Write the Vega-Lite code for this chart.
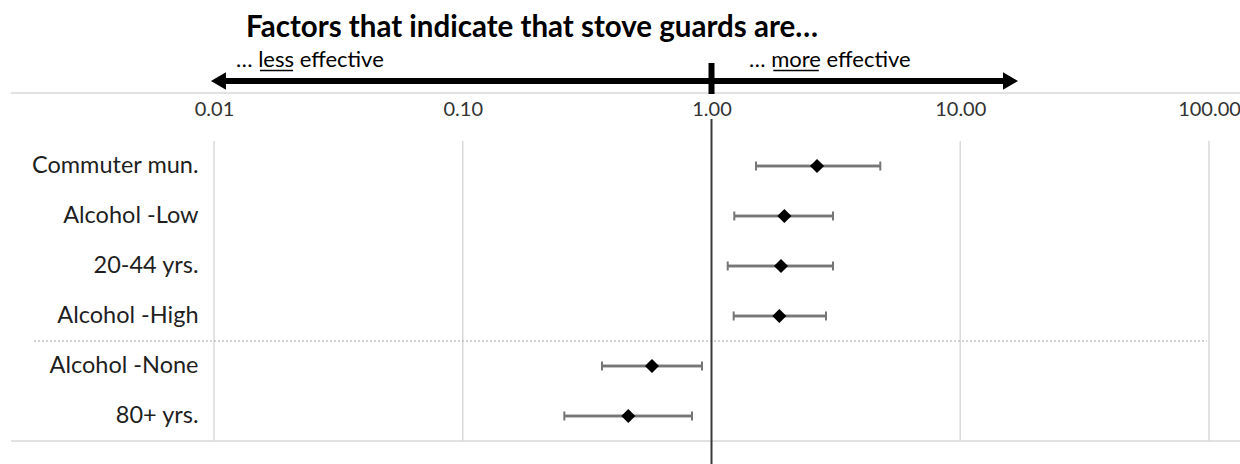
{
  "$schema": "https://vega.github.io/schema/vega-lite/v6.json",
  "background": "white",
  "padding": {"left": 10, "top": 12, "right": 0, "bottom": 0},
  "config": {"view": {"stroke": null}, "font": "Lato"},
  "spacing": 26,
  "bounds": "flush",
  "datasets": {
    "factors": [
      {"factor": "Commuter mun.", "or": 2.656, "lo": 1.51, "hi": 4.77},
      {"factor": "Alcohol -Low", "or": 1.963, "lo": 1.235, "hi": 3.08},
      {"factor": "20-44 yrs.", "or": 1.903, "lo": 1.162, "hi": 3.08},
      {"factor": "Alcohol -High", "or": 1.874, "lo": 1.228, "hi": 2.886},
      {"factor": "Alcohol -None", "or": 0.5764, "lo": 0.3628, "hi": 0.9158},
      {"factor": "80+ yrs.", "or": 0.4629, "lo": 0.256, "hi": 0.8349}
    ],
    "grid": [
      {"x": 0.01, "from": "Commuter mun.", "to": "80+ yrs."},
      {"x": 0.1, "from": "Commuter mun.", "to": "80+ yrs."},
      {"x": 10, "from": "Commuter mun.", "to": "80+ yrs."},
      {"x": 100, "from": "Commuter mun.", "to": "80+ yrs."}
    ],
    "separator": [{"factor": "Alcohol -None", "x": 0.00189, "x2": 98}],
    "bottomBorder": [{"factor": "80+ yrs.", "x": 0.001527, "x2": 134.5}],
    "refLine": [{"x": 1}],
    "topBorder": [{"lane": "border", "x": 0.001527, "x2": 134.5}],
    "shaft": [{"lane": "arrow", "x": 0.01042, "x2": 15.92}],
    "heads": [
      {"lane": "arrow", "x": 0.01042, "dir": "left"},
      {"lane": "arrow", "x": 15.92, "dir": "right"}
    ],
    "centreTick": [{"lane": "arrow", "x": 1}],
    "captions": [
      {"lane": "caption", "x": 0.01226, "label": "… less effective"},
      {"lane": "caption", "x": 1.415, "label": "… more effective"}
    ],
    "underlines": [
      {"lane": "caption", "x": 0.0153, "x2": 0.0208},
      {"lane": "caption", "x": 1.772, "x2": 2.70}
    ]
  },
  "vconcat": [
    {
      "width": 995,
      "height": 24,
      "title": {
        "text": "Factors that indicate that stove guards are…",
        "anchor": "start",
        "frame": "group",
        "dx": 32,
        "font": "Lato",
        "fontSize": 29.5,
        "fontWeight": "bold",
        "color": "#000000",
        "offset": 6
      },
      "layer": [
        {
          "data": {"name": "topBorder"},
          "mark": {"type": "rule", "color": "#d9d9d9", "strokeWidth": 1.5},
          "encoding": {
            "x": {"field": "x", "type": "quantitative", "scale": {"type": "log", "domain": [0.01, 100], "nice": false}, "axis": null},
            "x2": {"field": "x2"},
            "y": {"field": "lane", "type": "nominal", "scale": {"type": "point", "domain": ["caption", "arrow", "border"], "padding": 0}, "axis": null}
          }
        },
        {
          "data": {"name": "shaft"},
          "mark": {"type": "rule", "color": "#000000", "strokeWidth": 6},
          "encoding": {
            "x": {"field": "x", "type": "quantitative"},
            "x2": {"field": "x2"},
            "y": {"field": "lane", "type": "nominal"}
          }
        },
        {
          "data": {"name": "heads"},
          "mark": {"type": "point", "filled": true, "size": 300, "opacity": 1, "color": "#000000"},
          "encoding": {
            "x": {"field": "x", "type": "quantitative"},
            "y": {"field": "lane", "type": "nominal"},
            "shape": {"field": "dir", "type": "nominal", "scale": {"domain": ["left", "right"], "range": ["triangle-left", "triangle-right"]}, "legend": null}
          }
        },
        {
          "data": {"name": "centreTick"},
          "mark": {"type": "tick", "orient": "vertical", "color": "#000000", "size": 31, "thickness": 6, "opacity": 1, "yOffset": -2.5},
          "encoding": {
            "x": {"field": "x", "type": "quantitative"},
            "y": {"field": "lane", "type": "nominal"}
          }
        },
        {
          "data": {"name": "captions"},
          "mark": {"type": "text", "align": "left", "baseline": "alphabetic", "dy": -2, "font": "Lato", "fontSize": 22, "color": "#000000"},
          "encoding": {
            "x": {"field": "x", "type": "quantitative"},
            "y": {"field": "lane", "type": "nominal"},
            "text": {"field": "label"}
          }
        },
        {
          "data": {"name": "underlines"},
          "mark": {"type": "rule", "color": "#000000", "strokeWidth": 1.4, "yOffset": 1.5},
          "encoding": {
            "x": {"field": "x", "type": "quantitative"},
            "x2": {"field": "x2"},
            "y": {"field": "lane", "type": "nominal"}
          }
        }
      ]
    },
    {
      "width": 995,
      "height": 346,
      "layer": [
        {
          "data": {"name": "factors"},
          "mark": {"type": "rule", "color": "#767676", "strokeWidth": 2.5},
          "encoding": {
            "x": {
              "field": "lo", "type": "quantitative",
              "scale": {"type": "log", "domain": [0.01, 100], "nice": false},
              "axis": {
                "orient": "top", "values": [0.01, 0.1, 1, 10, 100], "format": ".2f",
                "grid": false, "ticks": false, "tickSize": 0, "domain": false,
                "labelFlush": false, "labelOverlap": false, "labelBound": false,
                "labelFont": "Lato", "labelFontSize": 20, "labelColor": "#333333",
                "labelBaseline": "middle", "labelPadding": 10, "title": null
              }
            },
            "x2": {"field": "hi"},
            "y": {
              "field": "factor", "type": "nominal",
              "scale": {
                "type": "band",
                "domain": ["Commuter mun.", "Alcohol -Low", "20-44 yrs.", "Alcohol -High", "Alcohol -None", "80+ yrs."],
                "paddingInner": 0, "paddingOuter": 0.46, "align": 0.478
              },
              "axis": {
                "ticks": false, "domain": false, "grid": false, "title": null,
                "labelFont": "Lato", "labelFontSize": 23.5, "labelColor": "#1f1f1f",
                "labelPadding": 16
              }
            }
          }
        },
        {
          "data": {"name": "grid"},
          "mark": {"type": "rule", "color": "#d9d9d9", "strokeWidth": 1.5},
          "encoding": {
            "x": {"field": "x", "type": "quantitative"},
            "y": {"field": "from", "type": "nominal", "bandPosition": 0},
            "y2": {"field": "to", "bandPosition": 1}
          }
        },
        {
          "data": {"name": "separator"},
          "mark": {"type": "rule", "color": "#a6a6a6", "strokeWidth": 1, "strokeDash": [2, 2]},
          "encoding": {
            "x": {"field": "x", "type": "quantitative"},
            "x2": {"field": "x2"},
            "y": {"field": "factor", "type": "nominal", "bandPosition": 0}
          }
        },
        {
          "data": {"name": "bottomBorder"},
          "mark": {"type": "rule", "color": "#d9d9d9", "strokeWidth": 1.5},
          "encoding": {
            "x": {"field": "x", "type": "quantitative"},
            "x2": {"field": "x2"},
            "y": {"field": "factor", "type": "nominal", "bandPosition": 1}
          }
        },
        {
          "data": {"name": "refLine"},
          "mark": {"type": "rule", "color": "#3a3a3a", "strokeWidth": 2},
          "encoding": {
            "x": {"field": "x", "type": "quantitative"}
          }
        },
        {
          "data": {"name": "factors"},
          "mark": {"type": "rule", "color": "#767676", "strokeWidth": 2.5},
          "encoding": {
            "x": {"field": "lo", "type": "quantitative"},
            "x2": {"field": "hi"},
            "y": {"field": "factor", "type": "nominal"}
          }
        },
        {
          "data": {"name": "factors"},
          "mark": {"type": "tick", "orient": "vertical", "color": "#767676", "size": 9, "thickness": 2, "opacity": 1},
          "encoding": {
            "x": {"field": "lo", "type": "quantitative"},
            "y": {"field": "factor", "type": "nominal"}
          }
        },
        {
          "data": {"name": "factors"},
          "mark": {"type": "tick", "orient": "vertical", "color": "#767676", "size": 9, "thickness": 2, "opacity": 1},
          "encoding": {
            "x": {"field": "hi", "type": "quantitative"},
            "y": {"field": "factor", "type": "nominal"}
          }
        },
        {
          "data": {"name": "factors"},
          "mark": {"type": "point", "shape": "diamond", "filled": true, "size": 200, "color": "#000000", "opacity": 1},
          "encoding": {
            "x": {"field": "or", "type": "quantitative"},
            "y": {"field": "factor", "type": "nominal"}
          }
        }
      ]
    }
  ]
}
